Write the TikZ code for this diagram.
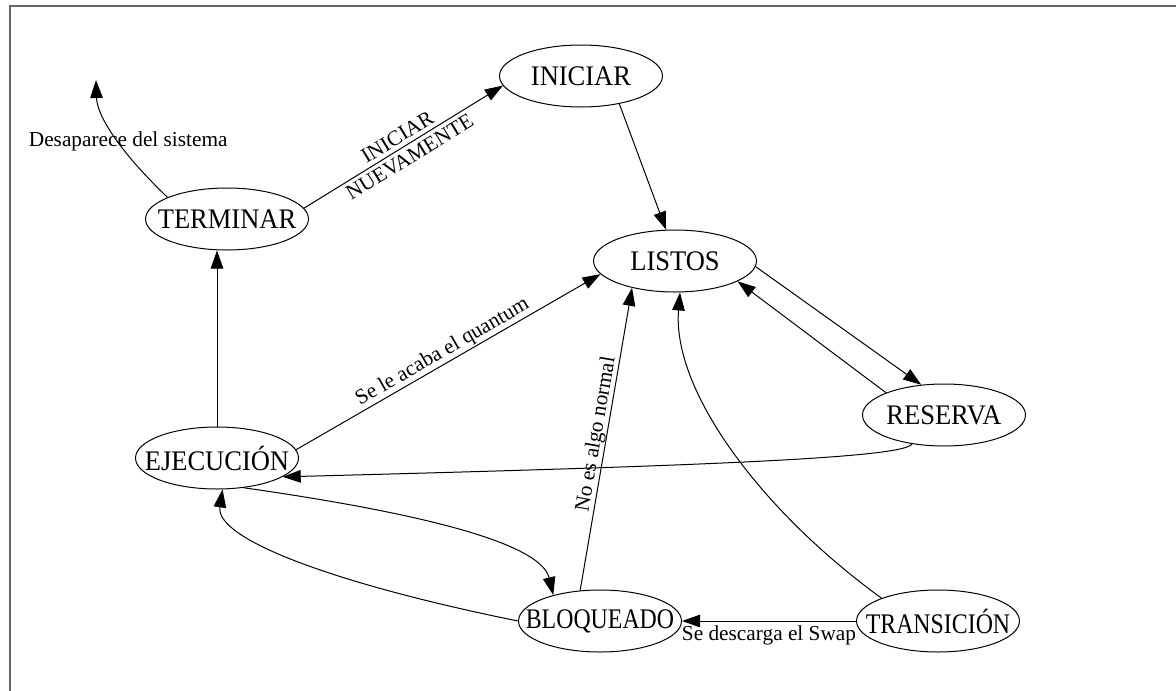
\documentclass[tikz,border=0pt]{standalone}
\usepackage{fontspec}
\setmainfont{Liberation Serif}
\usetikzlibrary{arrows.meta,shapes.geometric}
% state name, centred with no width of its own so the ellipse keeps its size
\newcommand\statename[2][1]{\makebox[0pt]{\scalebox{#1}[1.07]{#2}}}
\begin{document}
\begin{tikzpicture}[x=1pt,y=-1pt,
  state/.style={draw, ellipse, line width=1pt, minimum width=163pt,
    minimum height=62pt, inner sep=0pt, font=\fontsize{26.5}{30}\selectfont},
  edge/.style={draw, line width=1pt, -{Triangle[length=18pt,width=12.5pt]}},
  lbl/.style={font=\fontsize{21.3}{23.5}\selectfont, inner sep=1pt}]
\useasboundingbox (0,0) rectangle (1176,691);

% partial frame
\draw[black!60, line width=1.8pt] (9.8,691) -- (9.8,5.8) -- (1176,5.8);

% process states
\node[state] (TERM) at (227,219) {\statename{TERMINAR}};
\node[state] (INIC) at (581,76)  {\statename{INICIAR}};
\node[state] (LIST) at (675,261) {\statename{LISTOS}};
\node[state] (RESE) at (944,415) {\statename{RESERVA}};
\node[state] (EJEC) at (217,458) {\statename{EJECUCIÓN}};
\node[state] (BLOQ) at (600,621) {\statename[0.9]{BLOQUEADO}};
\node[state] (TRAN) at (938,621) {\statename[0.9]{TRANSICIÓN}};
\coordinate (gone) at (96,80);

% transitions
\draw[edge] (TERM.160) .. controls (118,150) and (97,115) .. (gone)
  node[lbl, pos=0.4, xshift=7pt, yshift=4.3pt] {Desaparece del sistema};
\draw[edge] (TERM.8) -- node[lbl, rotate=31.5, align=center] {INICIAR\\NUEVAMENTE} (INIC.187);
\draw[edge] (INIC.-36) -- (LIST.106);
\draw[edge] (LIST.-4) -- (RESE.127);
\draw[edge] (RESE.159) -- (LIST.-18);
\draw[edge] (RESE.222) .. controls (905,458) and (700,466) .. (EJEC.-16);
\draw[edge] (EJEC.north) -- (EJEC.north |- TERM.south);
\draw[edge] (EJEC.6) -- node[lbl, pos=0.5, anchor=south, rotate=30] {Se le acaba el quantum} (LIST.190);
\draw[edge] (EJEC.-48) .. controls (400,510) and (540,540) .. (BLOQ.151);
\draw[edge] (BLOQ.west) .. controls (340,585) and (215,540) .. (EJEC.-80);
\draw[edge] (BLOQ.123) -- node[lbl, pos=0.51, anchor=south, inner sep=0pt, rotate=80.2] {No es algo normal} (LIST.212);
\draw[edge] (TRAN.158) .. controls (760,510) and (672,390) .. (LIST.-81);
\draw[edge] (TRAN.west) -- node[lbl, anchor=north, inner sep=4pt] {Se descarga el Swap} (BLOQ.east);
\end{tikzpicture}
\end{document}
